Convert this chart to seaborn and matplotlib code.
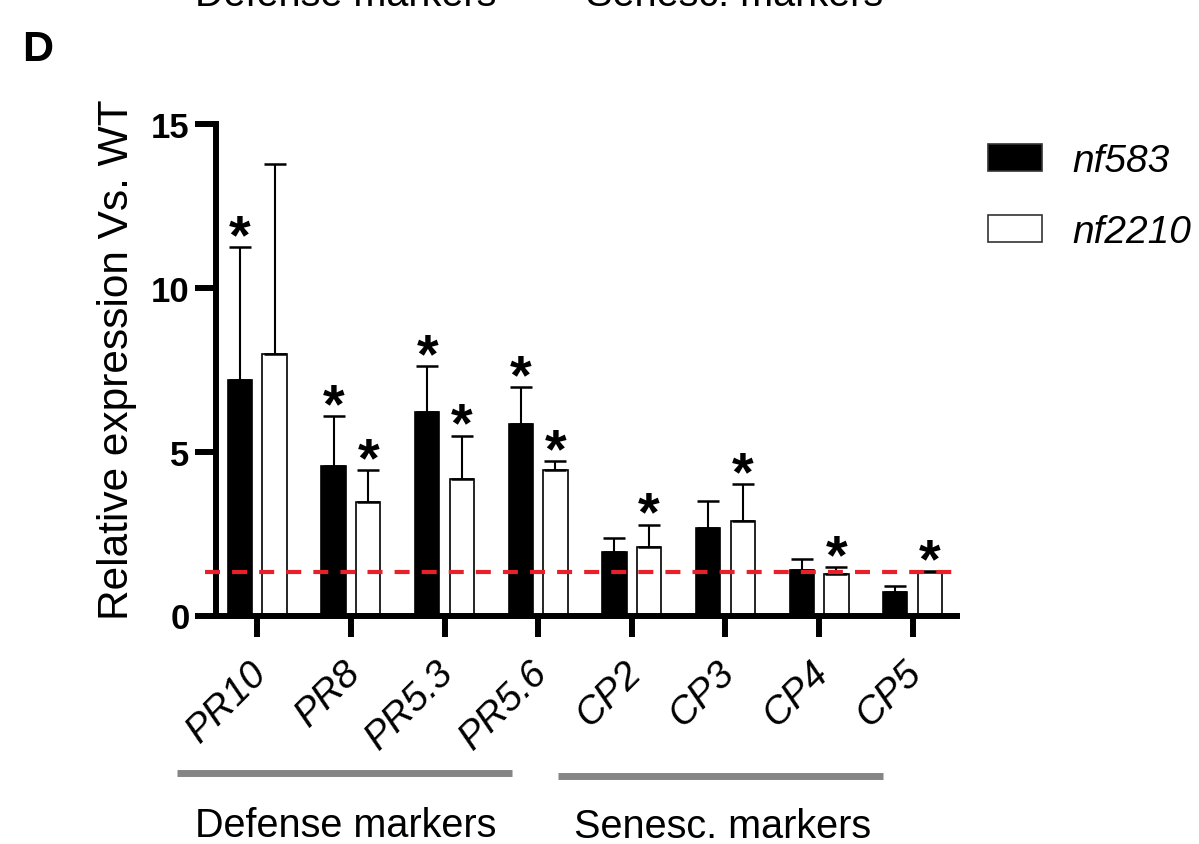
import numpy as np
import pandas as pd
import matplotlib
matplotlib.use("Agg")
import matplotlib.pyplot as plt
from matplotlib.lines import Line2D
from matplotlib.transforms import ScaledTranslation
import seaborn as sns

# Relative expression of marker genes in the two mutant lines (WT = 1)
genes = ["PR10", "PR8", "PR5.3", "PR5.6", "CP2", "CP3", "CP4", "CP5"]
lines = ["nf583", "nf2210"]
nf583_mean = [7.20, 4.55, 6.22, 5.83, 1.93, 2.68, 1.38, 0.73]
nf583_sd = [4.05, 1.53, 1.39, 1.15, 0.45, 0.80, 0.33, 0.18]
nf2210_mean = [7.98, 3.46, 4.18, 4.44, 2.08, 2.87, 1.27, 1.32]
nf2210_sd = [5.79, 0.97, 1.31, 0.28, 0.69, 1.15, 0.20, 0.04]
nf583_sig = [True, True, True, True, False, False, False, False]
nf2210_sig = [False, True, True, True, True, True, True, True]
threshold = 1.34
group_names = ["Defense markers", "Senesc. markers"]

df = pd.DataFrame({
    "gene": genes * 2,
    "line": [lines[0]] * len(genes) + [lines[1]] * len(genes),
    "expr": nf583_mean + nf2210_mean,
})

sns.set_theme(style="ticks")
plt.rcParams["font.family"] = ["Liberation Sans", "DejaVu Sans"]
plt.rcParams.update({
    "text.color": "black", "axes.labelcolor": "black", "axes.edgecolor": "black",
    "xtick.color": "black", "ytick.color": "black",
})

W, H = 1199, 845
fig = plt.figure(figsize=(W / 100, H / 100), dpi=100)
ax = fig.add_axes([216 / W, (H - 616.5) / H, (956.7 - 216) / W, 491.5 / H])

sns.barplot(data=df, x="gene", y="expr", hue="line", order=genes, hue_order=lines,
            palette=["black", "white"], saturation=1, edgecolor="black",
            linewidth=1.2, width=0.74, gap=0.3, errorbar=None, ax=ax, zorder=2)

# upper-only SD bars and significance stars
for cont, sds, sigs in zip(ax.containers, [nf583_sd, nf2210_sd], [nf583_sig, nf2210_sig]):
    xs = [b.get_x() + b.get_width() / 2 for b in cont]
    hs = [b.get_height() for b in cont]
    ax.errorbar(xs, hs, yerr=[np.zeros(len(sds)), sds], fmt="none", ecolor="black",
                elinewidth=1.5, capsize=8, capthick=1.8, zorder=3)
    for x, h, e, s in zip(xs, hs, sds, sigs):
        if s:
            ax.annotate("*", xy=(x, h + e), xytext=(0, -3.6), textcoords="offset points",
                        ha="center", va="baseline", fontsize=40, fontweight="bold",
                        color="black")

ax.axhline(threshold, xmin=-0.015, xmax=1.007, color="#e8202a", lw=3,
           ls=(0, (3.6, 2.9)), clip_on=False, zorder=4)

ax.set_xlim(-0.441, 7.47)
ax.set_ylim(0, 15)
ax.set_yticks([0, 5, 10, 15])
sns.despine(ax=ax)
for s in ["left", "bottom"]:
    ax.spines[s].set_linewidth(4.3)
    ax.spines[s].set_color("black")
ax.tick_params(axis="both", length=15, width=4.3, color="black")
ax.tick_params(axis="y", labelsize=25, pad=4)
for t in ax.get_yticklabels():
    t.set_fontweight("bold")
ax.set_xticks(range(len(genes)))
ax.set_xticklabels(genes, rotation=45, ha="right", va="center", rotation_mode="anchor",
                   fontstyle="italic", fontsize=28)
ax.tick_params(axis="x", pad=22)
shift = ScaledTranslation(4 / 100, 0, fig.dpi_scale_trans)
for t in ax.get_xticklabels():
    t.set_transform(t.get_transform() + shift)
ax.set_xlabel("")
ax.set_ylabel("Relative expression Vs. WT", fontsize=30.5)
ax.yaxis.set_label_coords(-0.106, 0.522)

handles, labels = ax.get_legend_handles_labels()
if ax.legend_ is not None:
    ax.legend_.remove()
for h in handles:
    h.set_edgecolor("#333333")
    h.set_linewidth(1.2)
fig.legend(handles, labels, loc="upper left", bbox_to_anchor=(988 / W, 1 - 144 / H),
           frameon=False, borderpad=0, borderaxespad=0,
           prop={"size": 28, "style": "italic"}, handlelength=1.39, handleheight=0.69,
           handletextpad=0.77, labelspacing=0.91)

# gene-group brackets below the axis
grey = "#858585"
fig.add_artist(Line2D([176.7 / W, 511.7 / W], [1 - 774 / H] * 2, color=grey, lw=5,
                      solid_capstyle="butt"))
fig.add_artist(Line2D([558 / W, 883 / W], [1 - 777 / H] * 2, color=grey, lw=5,
                      solid_capstyle="butt"))
fig.text(345.7 / W, 1 - 836.7 / H, group_names[0], ha="center", va="baseline", fontsize=28.5)
fig.text(723 / W, 1 - 838 / H, group_names[1], ha="center", va="baseline", fontsize=28.5)

# labels of the panel above, cut at the top edge
fig.text(345.7 / W, 1 - 6 / H, group_names[0], ha="center", va="baseline", fontsize=28.5)
fig.text(735 / W, 1 - 6 / H, group_names[1], ha="center", va="baseline", fontsize=28.5)

fig.text(22 / W, 1 - 61 / H, "D", fontsize=31, fontweight="bold", va="baseline")

fig.savefig("out.png", dpi=100)
